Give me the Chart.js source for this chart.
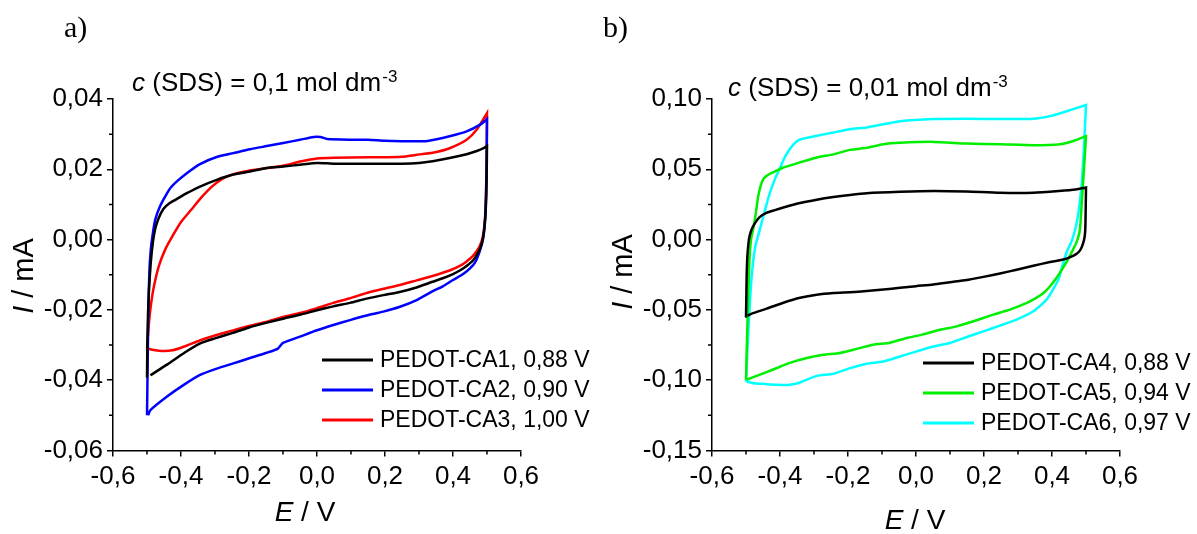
<!DOCTYPE html>
<html lang="pl">
<head>
  <meta charset="UTF-8">
  <title>PEDOT-CA cyclic voltammograms</title>
  <script src="https://cdn.jsdelivr.net/npm/chart.js"></script>
  <style>
    body {
      margin: 0;
      background: #fff;
    }
    #wrap {
      position: relative;
      width: 1197px;
      height: 534px;
    }
    #panelA, #panelB {
      position: absolute;
      top: 0;
    }
    #panelA { left: 0; }
    #panelB { left: 599px; }
  </style>
</head>
<body>

<div id="wrap">
  <canvas id="panelA" width="598" height="534"></canvas>
  <canvas id="panelB" width="598" height="534"></canvas>
</div>

<script>
  // ---- panel a) c(SDS) = 0,1 mol dm-3 : E / V and I / mA, one closed loop per film ----
  var a1E = [-0.500, -0.499, -0.497, -0.494, -0.489, -0.483, -0.476, -0.467, -0.452, -0.435, -0.413, -0.383, -0.344, -0.295, -0.246, -0.197, -0.148, -0.099, -0.050, 0.000, 0.050, 0.150, 0.250, 0.300, 0.340, 0.390, 0.440, 0.470, 0.490, 0.500,
             0.500, 0.499, 0.497, 0.492, 0.485, 0.475, 0.460, 0.440, 0.420, 0.400, 0.370, 0.340, 0.290, 0.240, 0.195, 0.146, 0.097, 0.048, 0.000, -0.050, -0.100, -0.150, -0.200, -0.250, -0.300, -0.345, -0.390, -0.440, -0.490];
  var a1I = [-0.0392, -0.0300, -0.0210, -0.0140, -0.0067, -0.0010, 0.0030, 0.0058, 0.0087, 0.0103, 0.0115, 0.0132, 0.0151, 0.0170, 0.0185, 0.0194, 0.0204, 0.0208, 0.0213, 0.0218, 0.0216, 0.0216, 0.0216, 0.0218, 0.0223, 0.0232, 0.0243, 0.0252, 0.0260, 0.0266,
             0.0266, 0.0180, 0.0100, 0.0030, -0.0010, -0.0035, -0.0058, -0.0075, -0.0088, -0.0098, -0.0110, -0.0120, -0.0137, -0.0150, -0.0158, -0.0168, -0.0180, -0.0190, -0.0201, -0.0214, -0.0225, -0.0237, -0.0250, -0.0266, -0.0281, -0.0296, -0.0322, -0.0355, -0.0386];

  var a2E = [-0.500, -0.498, -0.496, -0.493, -0.489, -0.484, -0.476, -0.462, -0.445, -0.430, -0.413, -0.383, -0.344, -0.295, -0.246, -0.197, -0.148, -0.099, -0.050, -0.010, 0.010, 0.030, 0.100, 0.150, 0.200, 0.250, 0.320, 0.345, 0.390, 0.440, 0.480, 0.500,
             0.500, 0.499, 0.497, 0.494, 0.488, 0.478, 0.465, 0.450, 0.430, 0.400, 0.370, 0.342, 0.293, 0.244, 0.195, 0.146, 0.097, 0.048, 0.000, -0.050, -0.100, -0.115, -0.148, -0.197, -0.246, -0.295, -0.344, -0.393, -0.442, -0.490, -0.497];
  var a2I = [-0.0500, -0.0350, -0.0200, -0.0090, -0.0030, 0.0010, 0.0056, 0.0094, 0.0125, 0.0148, 0.0165, 0.0189, 0.0215, 0.0235, 0.0246, 0.0257, 0.0266, 0.0275, 0.0284, 0.0292, 0.0292, 0.0286, 0.0284, 0.0284, 0.0281, 0.0280, 0.0280, 0.0284, 0.0294, 0.0308, 0.0327, 0.0343,
             0.0343, 0.0220, 0.0120, 0.0050, 0.0000, -0.0035, -0.0065, -0.0082, -0.0098, -0.0115, -0.0133, -0.0146, -0.0172, -0.0191, -0.0205, -0.0216, -0.0229, -0.0243, -0.0258, -0.0276, -0.0294, -0.0310, -0.0322, -0.0337, -0.0352, -0.0367, -0.0385, -0.0414, -0.0447, -0.0485, -0.0500];

  var a3E = [-0.500, -0.495, -0.489, -0.480, -0.465, -0.445, -0.425, -0.400, -0.370, -0.340, -0.310, -0.280, -0.250, -0.200, -0.150, -0.100, -0.050, 0.000, 0.050, 0.150, 0.250, 0.290, 0.340, 0.390, 0.440, 0.470, 0.500,
             0.500, 0.499, 0.497, 0.494, 0.488, 0.478, 0.460, 0.440, 0.420, 0.390, 0.342, 0.293, 0.244, 0.195, 0.146, 0.097, 0.048, 0.000, -0.050, -0.100, -0.150, -0.200, -0.250, -0.300, -0.345, -0.390, -0.425, -0.455, -0.480, -0.497];
  var a3I = [-0.0310, -0.0245, -0.0190, -0.0135, -0.0075, -0.0025, 0.0010, 0.0050, 0.0085, 0.0120, 0.0150, 0.0172, 0.0185, 0.0196, 0.0203, 0.0210, 0.0222, 0.0231, 0.0233, 0.0234, 0.0236, 0.0241, 0.0247, 0.0260, 0.0284, 0.0313, 0.0360,
             0.0360, 0.0240, 0.0130, 0.0060, 0.0010, -0.0020, -0.0045, -0.0062, -0.0075, -0.0088, -0.0103, -0.0116, -0.0129, -0.0140, -0.0152, -0.0167, -0.0180, -0.0195, -0.0209, -0.0220, -0.0234, -0.0246, -0.0259, -0.0273, -0.0287, -0.0304, -0.0315, -0.0317, -0.0314, -0.0310];

  // ---- panel b) c(SDS) = 0,01 mol dm-3 ----
  var b4E = [-0.500, -0.499, -0.498, -0.496, -0.493, -0.489, -0.482, -0.474, -0.460, -0.440, -0.415, -0.390, -0.341, -0.292, -0.243, -0.194, -0.145, -0.047, 0.051, 0.149, 0.247, 0.345, 0.420, 0.470, 0.500,
             0.500, 0.499, 0.498, 0.496, 0.491, 0.483, 0.470, 0.450, 0.430, 0.394, 0.345, 0.296, 0.247, 0.198, 0.149, 0.100, 0.051, 0.000, -0.047, -0.096, -0.145, -0.194, -0.243, -0.292, -0.341, -0.390, -0.439, -0.483, -0.495];
  var b4I = [-0.0555, -0.0400, -0.0250, -0.0120, -0.0030, 0.0030, 0.0080, 0.0115, 0.0160, 0.0190, 0.0210, 0.0228, 0.0260, 0.0284, 0.0303, 0.0318, 0.0330, 0.0340, 0.0346, 0.0342, 0.0333, 0.0333, 0.0345, 0.0356, 0.0370,
             0.0370, 0.0200, 0.0080, 0.0020, -0.0030, -0.0075, -0.0105, -0.0128, -0.0143, -0.0160, -0.0186, -0.0214, -0.0241, -0.0265, -0.0288, -0.0303, -0.0319, -0.0331, -0.0343, -0.0355, -0.0366, -0.0374, -0.0380, -0.0392, -0.0414, -0.0449, -0.0491, -0.0526, -0.0540];

  var b5E = [-0.500, -0.497, -0.494, -0.491, -0.488, -0.484, -0.478, -0.471, -0.464, -0.456, -0.449, -0.440, -0.430, -0.410, -0.390, -0.341, -0.292, -0.243, -0.194, -0.145, -0.096, -0.047, 0.051, 0.149, 0.247, 0.345, 0.424, 0.463, 0.500,
             0.500, 0.494, 0.488, 0.482, 0.472, 0.460, 0.445, 0.430, 0.414, 0.395, 0.375, 0.350, 0.326, 0.276, 0.227, 0.169, 0.120, 0.071, 0.021, -0.027, -0.076, -0.126, -0.174, -0.224, -0.273, -0.321, -0.371, -0.420, -0.459, -0.498];
  var b5I = [-0.0997, -0.0700, -0.0450, -0.0220, -0.0070, 0.0020, 0.0085, 0.0190, 0.0310, 0.0390, 0.0430, 0.0452, 0.0467, 0.0490, 0.0513, 0.0549, 0.0584, 0.0606, 0.0638, 0.0653, 0.0678, 0.0688, 0.0695, 0.0683, 0.0678, 0.0671, 0.0678, 0.0701, 0.0735,
             0.0735, 0.0500, 0.0280, 0.0070, -0.0020, -0.0080, -0.0150, -0.0210, -0.0270, -0.0330, -0.0380, -0.0420, -0.0450, -0.0498, -0.0534, -0.0581, -0.0617, -0.0641, -0.0674, -0.0700, -0.0733, -0.0748, -0.0777, -0.0806, -0.0819, -0.0842, -0.0877, -0.0924, -0.0960, -0.0997];

  var b6E = [-0.500, -0.497, -0.492, -0.486, -0.480, -0.472, -0.464, -0.454, -0.443, -0.430, -0.415, -0.400, -0.385, -0.371, -0.355, -0.341, -0.292, -0.243, -0.194, -0.145, -0.096, -0.047, 0.051, 0.149, 0.247, 0.345, 0.394, 0.443, 0.500,
             0.500, 0.495, 0.489, 0.482, 0.475, 0.468, 0.458, 0.443, 0.430, 0.419, 0.384, 0.345, 0.296, 0.247, 0.198, 0.149, 0.100, 0.051, 0.002, -0.047, -0.096, -0.145, -0.194, -0.243, -0.292, -0.341, -0.371, -0.410, -0.449, -0.478, -0.498];
  var b6I = [-0.1010, -0.0850, -0.0600, -0.0350, -0.0180, -0.0040, 0.0030, 0.0120, 0.0220, 0.0330, 0.0430, 0.0510, 0.0590, 0.0645, 0.0690, 0.0712, 0.0738, 0.0762, 0.0785, 0.0798, 0.0820, 0.0842, 0.0857, 0.0860, 0.0857, 0.0859, 0.0878, 0.0913, 0.0957,
             0.0957, 0.0700, 0.0450, 0.0270, 0.0150, 0.0070, -0.0010, -0.0090, -0.0190, -0.0284, -0.0427, -0.0510, -0.0569, -0.0612, -0.0653, -0.0693, -0.0735, -0.0760, -0.0795, -0.0831, -0.0867, -0.0883, -0.0914, -0.0954, -0.0969, -0.1016, -0.1033, -0.1033, -0.1026, -0.1021, -0.1010];

  var labelsA = ['PEDOT-CA1, 0,88 V', 'PEDOT-CA2, 0,90 V', 'PEDOT-CA3, 1,00 V'];
  var labelsB = ['PEDOT-CA4, 0,88 V', 'PEDOT-CA5, 0,94 V', 'PEDOT-CA6, 0,97 V'];

  var xTicks = { min: -0.6, max: 0.6, step: 0.2 };
  var yTicksA = { min: -0.06, max: 0.04, step: 0.02 };
  var yTicksB = { min: -0.15, max: 0.10, step: 0.05 };

  var sans = "'Liberation Sans', Arial, sans-serif";

  function punkty(E, I) {
    return E.map(function (e, k) { return { x: e, y: I[k] }; });
  }

  function krzywa(label, E, I, kolor) {
    return {
      label: label,
      data: punkty(E, I),
      showLine: true,
      borderColor: kolor,
      backgroundColor: kolor,
      borderWidth: 2.5,
      pointRadius: 0,
      tension: 0.2,
      fill: false
    };
  }

  function przecinek(v, dec) {
    if (Math.abs(v) < 1e-9) v = 0;
    return v.toFixed(dec).replace('.', ',');
  }

  // napis z kursywa na poczatku: [tekst, italic?]
  function napis(ctx, parts, x, y, size) {
    var cx = x;
    parts.forEach(function (p) {
      ctx.font = (p[1] ? 'italic ' : '') + size + 'px ' + sans;
      ctx.fillText(p[0], cx, y);
      cx += ctx.measureText(p[0]).width;
    });
    return cx;
  }

  function szerokosc(ctx, parts, size) {
    var w = 0;
    parts.forEach(function (p) {
      ctx.font = (p[1] ? 'italic ' : '') + size + 'px ' + sans;
      w += ctx.measureText(p[0]).width;
    });
    return w;
  }

  var dodatki = {
    id: 'dodatki',
    afterDraw: function (chart, args, o) {
      var ctx = chart.ctx;
      var sx = chart.scales.x, sy = chart.scales.y;
      var area = chart.chartArea;
      ctx.save();

      // krotkie podzialki posrednie
      ctx.strokeStyle = '#000';
      ctx.lineWidth = 1.5;
      ctx.beginPath();
      for (var k = 0; ; k++) {
        var vx = sx.min + (2 * k + 1) * o.xMinor;
        if (vx >= sx.max) break;
        var px = sx.getPixelForValue(vx);
        ctx.moveTo(px, area.bottom);
        ctx.lineTo(px, area.bottom + 4);
      }
      for (var j = 0; ; j++) {
        var vy = sy.min + (2 * j + 1) * o.yMinor;
        if (vy >= sy.max) break;
        var py = sy.getPixelForValue(vy);
        ctx.moveTo(area.left, py);
        ctx.lineTo(area.left - 4, py);
      }
      ctx.stroke();

      ctx.fillStyle = '#000';
      ctx.textBaseline = 'alphabetic';
      ctx.textAlign = 'left';

      // litera panelu
      ctx.font = '30px "Liberation Serif", "Times New Roman", serif';
      ctx.fillText(o.letter, o.letterX, o.letterY);

      // stezenie SDS
      var end = napis(ctx, [['c', true], [' (SDS) = ' + o.conc + ' mol dm', false]], o.concX, o.concY, 26);
      ctx.font = '17px ' + sans;
      ctx.fillText('-3', end + 1, o.concY - 9);

      // tytul osi x
      var xt = [['E', true], [' / V', false]];
      var wx = szerokosc(ctx, xt, 28);
      napis(ctx, xt, o.xTitleX - wx / 2, o.xTitleY, 28);

      // tytul osi y
      var yt = [['I', true], [' / mA', false]];
      var wy = szerokosc(ctx, yt, 29);
      ctx.save();
      ctx.translate(o.yTitleX, o.yTitleY);
      ctx.rotate(-Math.PI / 2);
      ctx.textBaseline = 'middle';
      napis(ctx, yt, -wy / 2, 0, 29);
      ctx.restore();

      // legenda
      ctx.textBaseline = 'middle';
      ctx.font = '23px ' + sans;
      chart.data.datasets.forEach(function (ds, i) {
        var ry = o.legY + i * 30;
        ctx.strokeStyle = ds.borderColor;
        ctx.lineWidth = 3;
        ctx.beginPath();
        ctx.moveTo(o.legX, ry);
        ctx.lineTo(o.legX + 51, ry);
        ctx.stroke();
        ctx.fillStyle = '#000';
        ctx.fillText(ds.label, o.legX + 58, ry + 1);
      });

      ctx.restore();
    }
  };

  function opcje(yT, yDec, extra) {
    return {
      responsive: false,
      animation: false,
      layout: { padding: { left: 0, right: 77, top: 99, bottom: 0 } },
      plugins: {
        legend: { display: false },
        tooltip: { enabled: false },
        dodatki: extra
      },
      scales: {
        x: {
          type: 'linear',
          min: xTicks.min,
          max: xTicks.max,
          afterFit: function (s) { s.height = 83.5; },
          border: { display: true, color: '#000', width: 1.5 },
          grid: { drawOnChartArea: false, drawTicks: true, tickLength: 6, color: '#000', lineWidth: 1.5 },
          ticks: {
            stepSize: xTicks.step,
            color: '#000',
            padding: 5,
            maxRotation: 0,
            font: { family: sans, size: 26 },
            callback: function (v) { return przecinek(v, 1); }
          }
        },
        y: {
          type: 'linear',
          min: yT.min,
          max: yT.max,
          afterFit: function (s) { s.width = 113; },
          border: { display: true, color: '#000', width: 1.5 },
          grid: { drawOnChartArea: false, drawTicks: true, tickLength: 6, color: '#000', lineWidth: 1.5 },
          ticks: {
            stepSize: yT.step,
            color: '#000',
            padding: 4,
            font: { family: sans, size: 26 },
            callback: function (v) { return przecinek(v, yDec); }
          }
        }
      }
    };
  }

  new Chart(document.getElementById('panelA'), {
    type: 'scatter',
    data: {
      datasets: [
        krzywa(labelsA[0], a1E, a1I, '#000000'),
        krzywa(labelsA[1], a2E, a2I, '#0000ff'),
        krzywa(labelsA[2], a3E, a3I, '#ff0000')
      ]
    },
    options: opcje(yTicksA, 2, {
      xMinor: 0.1, yMinor: 0.01,
      letter: 'a)', letterX: 64, letterY: 37,
      conc: '0,1', concX: 132, concY: 91,
      xTitleX: 305, xTitleY: 521,
      yTitleX: 25, yTitleY: 276,
      legX: 322, legY: 360
    }),
    plugins: [dodatki]
  });

  new Chart(document.getElementById('panelB'), {
    type: 'scatter',
    data: {
      datasets: [
        krzywa(labelsB[0], b4E, b4I, '#000000'),
        krzywa(labelsB[1], b5E, b5I, '#00ee00'),
        krzywa(labelsB[2], b6E, b6I, '#00ffff')
      ]
    },
    options: opcje(yTicksB, 2, {
      xMinor: 0.1, yMinor: 0.025,
      letter: 'b)', letterX: 4, letterY: 37,
      conc: '0,01', concX: 129, concY: 96,
      xTitleX: 316, xTitleY: 529,
      yTitleX: 25, yTitleY: 272,
      legX: 324, legY: 363
    }),
    plugins: [dodatki]
  });
</script>

</body>
</html>
